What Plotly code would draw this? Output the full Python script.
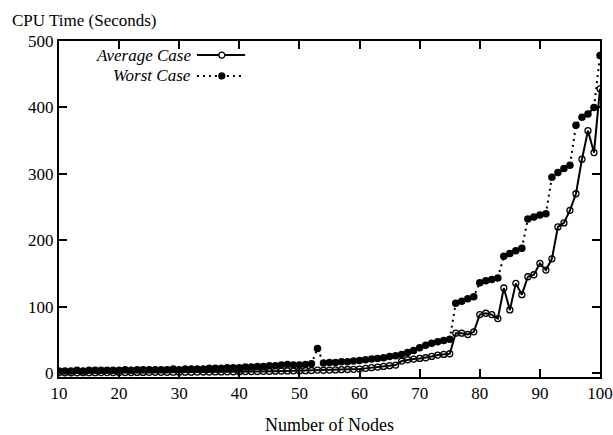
import plotly.graph_objects as go

nodes = list(range(10, 101))

average_case = [
    0.3, 0.3, 0.4, 0.4, 0.5, 0.5, 0.5, 0.6, 0.6, 0.7,
    0.7, 0.8, 0.8, 0.9, 0.9, 1.0, 1.0, 1.1, 1.1, 1.2,
    1.2, 1.3, 1.3, 1.4, 1.5, 1.5, 1.6, 1.7, 1.8, 1.9,
    2.0, 2.1, 2.2, 2.3, 2.5, 2.6, 2.8, 3.0, 3.1, 3.3,
    3.4, 3.6, 3.8, 4.5, 4.2, 4.5, 4.7, 5.0, 5.3, 5.6,
    6, 7, 8, 9, 10, 11, 12, 18, 20, 21,
    22, 23, 25, 27, 28, 29,
    60, 60, 58, 62, 88, 90, 88, 82, 128, 95,
    135, 118, 145, 148, 165, 155, 172, 220, 226, 245,
    270, 322, 365, 332, 428,
]

worst_case = [
    3, 3, 3, 4, 3, 4, 4, 4, 4, 4,
    4, 5, 4, 5, 5, 5, 5, 5, 5, 6,
    5, 6, 6, 6, 6, 7, 7, 7, 8, 8,
    8, 9, 9, 10, 10, 11, 11, 12, 13, 12,
    12, 13, 14, 37, 15, 16, 16, 17, 17, 18,
    19, 20, 21, 22, 23, 25, 26, 28, 31, 34,
    38, 42, 45, 47, 49, 51,
    105, 108, 112, 115, 136, 139, 141, 143, 176, 180,
    184, 188, 232, 235, 238, 240, 295, 302, 308, 313,
    373, 385, 390, 400, 478,
]

x_ticks = [10, 20, 30, 40, 50, 60, 70, 80, 90, 100]
y_ticks = [0, 100, 200, 300, 400, 500]

FONT = "Liberation Serif"

fig = go.Figure()
fig.add_trace(go.Scatter(
    x=nodes, y=worst_case, mode="lines+markers", name="Worst Case",
    line=dict(color="black", width=2, dash="2px,4px"),
    marker=dict(symbol="circle", size=7.5, color="black"),
    showlegend=False,
))
fig.add_trace(go.Scatter(
    x=nodes, y=average_case, mode="lines+markers", name="Average Case",
    line=dict(color="black", width=2),
    marker=dict(symbol="circle-open", size=6, color="black", line=dict(width=1.3)),
    showlegend=False,
))

axis_common = dict(
    showgrid=False, zeroline=False, showline=True, linecolor="black", linewidth=2,
    mirror="ticks", ticks="inside", ticklen=8, tickwidth=2, tickcolor="black",
    tickfont=dict(family=FONT, size=17, color="black"), automargin=False,
)

fig.update_layout(
    width=613, height=435,
    margin=dict(l=59, r=13, t=41, b=58),
    paper_bgcolor="white", plot_bgcolor="white",
    font=dict(family=FONT, color="black"),
    xaxis=dict(range=[10, 100], tickvals=x_ticks, ticktext=[str(v) for v in x_ticks],
               title=dict(text="Number of Nodes", font=dict(family=FONT, size=18), standoff=19),
               **axis_common),
    yaxis=dict(range=[-6, 500], tickvals=y_ticks, ticktext=[str(v) for v in y_ticks],
               **axis_common),
    title=dict(text="CPU Time (Seconds)", font=dict(family=FONT, size=17, color="black"),
               x=12 / 613, xanchor="left", xref="container",
               y=1 - 20 / 435, yanchor="middle", yref="container"),
)

# Legend drawn gnuplot-style: text on the left, sample on the right
leg_items = [("Average Case", 0.958, "solid", "circle-open"),
             ("Worst Case", 0.896, "dot", "circle")]
for label, ly, style, sym in leg_items:
    fig.add_annotation(text="<i>" + label + "</i>", xref="paper", yref="paper",
                       x=0.247, y=ly, xanchor="right", yanchor="middle", showarrow=False,
                       font=dict(family=FONT, size=17, color="black"))
    fig.add_shape(type="line", xref="paper", yref="paper", x0=0.255, x1=0.344, y0=ly, y1=ly,
                  line=dict(color="black", width=2, dash="solid" if style == "solid" else "2px,4px"))
    fig.add_shape(type="circle", xref="paper", yref="paper", xsizemode="pixel", ysizemode="pixel",
                  xanchor=0.301, yanchor=ly, x0=-3, x1=3, y0=-3, y1=3,
                  line=dict(color="black", width=1.3),
                  fillcolor="white" if sym == "circle-open" else "black")

fig.write_html("out.html", config={"displayModeBar": False},
               post_script="document.body.style.margin='0';")
